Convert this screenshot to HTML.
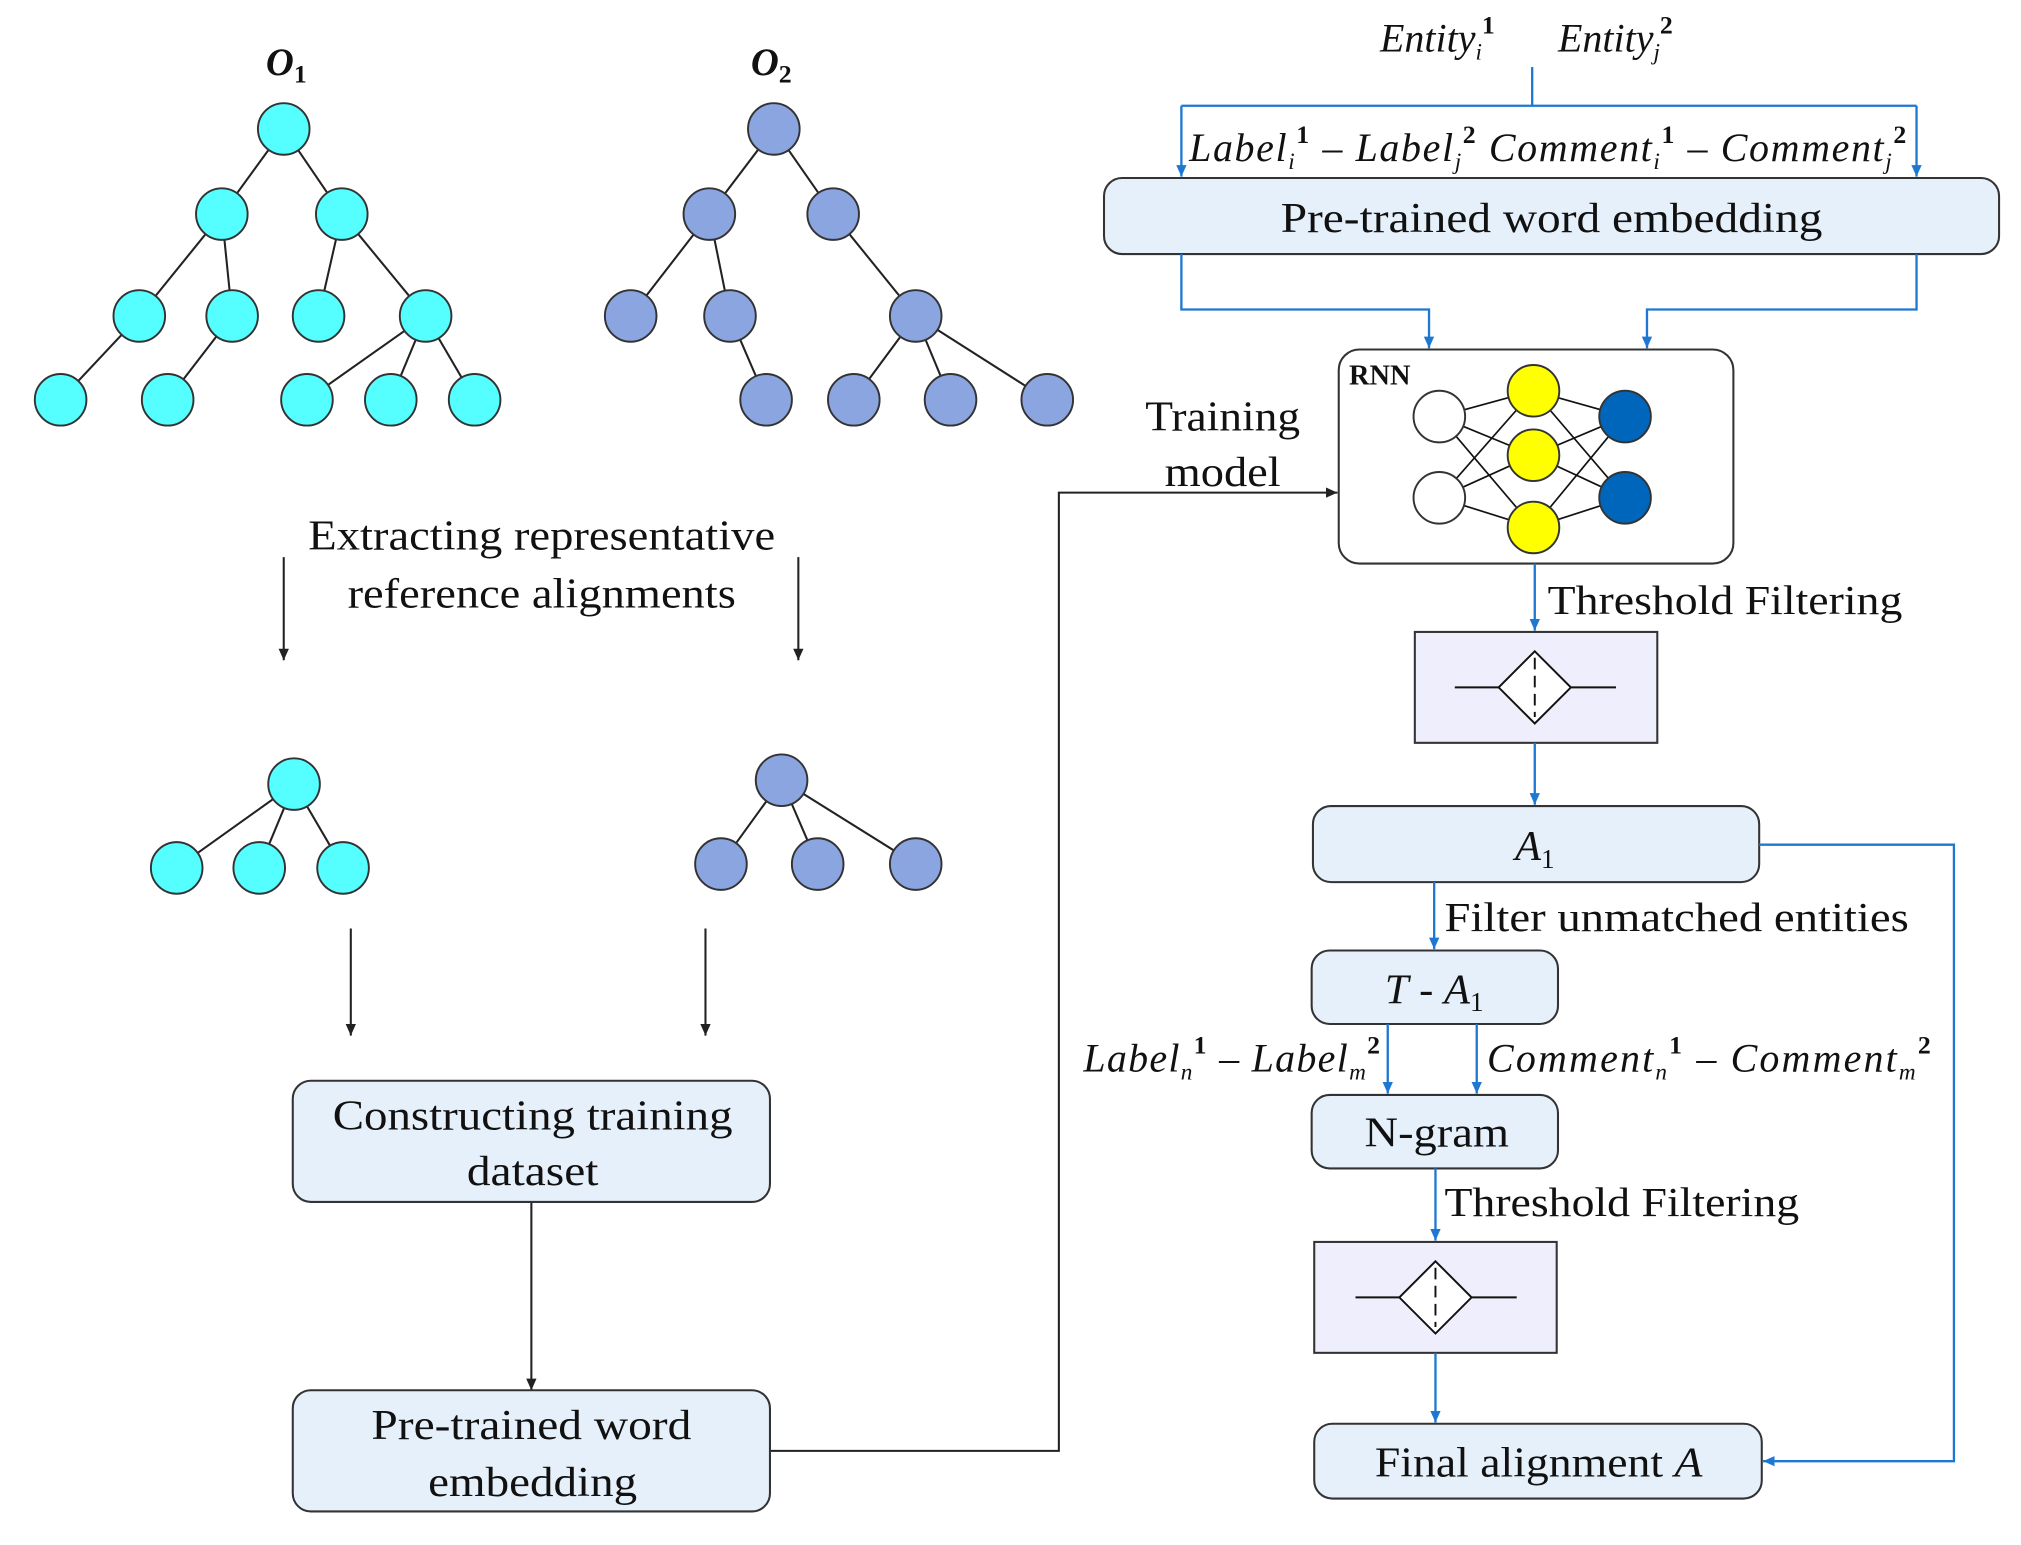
<!DOCTYPE html>
<html><head><meta charset="utf-8"><style>html,body{margin:0;padding:0;background:#fff}svg{display:block}</style></head>
<body>
<svg width="2021" height="1545" viewBox="0 0 1567 1198" preserveAspectRatio="none" xmlns="http://www.w3.org/2000/svg" font-family="'Liberation Serif', serif">
<defs>
<marker id="ak" markerWidth="10" markerHeight="10" refX="9" refY="5" orient="auto" markerUnits="userSpaceOnUse"><path d="M0,1 L9,5 L0,9 z" fill="#222"/></marker>
<marker id="ab" markerWidth="10" markerHeight="10" refX="9" refY="5" orient="auto" markerUnits="userSpaceOnUse"><path d="M0,1 L9,5 L0,9 z" fill="#1e78d2"/></marker>
</defs>
<g stroke="#222" stroke-width="1.6">
<line x1="220" y1="100" x2="172" y2="166"/><line x1="220" y1="100" x2="265" y2="166"/>
<line x1="172" y1="166" x2="108" y2="245"/><line x1="172" y1="166" x2="180" y2="245"/>
<line x1="265" y1="166" x2="247" y2="245"/><line x1="265" y1="166" x2="330" y2="245"/>
<line x1="108" y1="245" x2="47" y2="310"/><line x1="180" y1="245" x2="130" y2="310"/>
<line x1="330" y1="245" x2="238" y2="310"/><line x1="330" y1="245" x2="303" y2="310"/><line x1="330" y1="245" x2="368" y2="310"/>
<line x1="600" y1="100" x2="550" y2="166"/><line x1="600" y1="100" x2="646" y2="166"/>
<line x1="550" y1="166" x2="489" y2="245"/><line x1="550" y1="166" x2="566" y2="245"/>
<line x1="646" y1="166" x2="710" y2="245"/><line x1="566" y1="245" x2="594" y2="310"/>
<line x1="710" y1="245" x2="662" y2="310"/><line x1="710" y1="245" x2="737" y2="310"/><line x1="710" y1="245" x2="812" y2="310"/>
<line x1="228" y1="608" x2="137" y2="673"/><line x1="228" y1="608" x2="201" y2="673"/><line x1="228" y1="608" x2="266" y2="673"/>
<line x1="606" y1="605" x2="559" y2="670"/><line x1="606" y1="605" x2="634" y2="670"/><line x1="606" y1="605" x2="710" y2="670"/>
</g>
<g fill="#55ffff" stroke="#333" stroke-width="1.5">
<circle cx="220" cy="100" r="20"/><circle cx="172" cy="166" r="20"/><circle cx="265" cy="166" r="20"/>
<circle cx="108" cy="245" r="20"/><circle cx="180" cy="245" r="20"/><circle cx="247" cy="245" r="20"/><circle cx="330" cy="245" r="20"/>
<circle cx="47" cy="310" r="20"/><circle cx="130" cy="310" r="20"/><circle cx="238" cy="310" r="20"/><circle cx="303" cy="310" r="20"/><circle cx="368" cy="310" r="20"/>
<circle cx="228" cy="608" r="20"/><circle cx="137" cy="673" r="20"/><circle cx="201" cy="673" r="20"/><circle cx="266" cy="673" r="20"/>
</g>
<g fill="#8aa5e0" stroke="#333" stroke-width="1.5">
<circle cx="600" cy="100" r="20"/><circle cx="550" cy="166" r="20"/><circle cx="646" cy="166" r="20"/>
<circle cx="489" cy="245" r="20"/><circle cx="566" cy="245" r="20"/><circle cx="710" cy="245" r="20"/>
<circle cx="594" cy="310" r="20"/><circle cx="662" cy="310" r="20"/><circle cx="737" cy="310" r="20"/><circle cx="812" cy="310" r="20"/>
<circle cx="606" cy="605" r="20"/><circle cx="559" cy="670" r="20"/><circle cx="634" cy="670" r="20"/><circle cx="710" cy="670" r="20"/>
</g>
<g font-size="30" font-weight="bold" font-style="italic" text-anchor="middle" fill="#111">
<text x="222" y="58">O<tspan font-size="20" dy="6" font-style="normal">1</tspan></text>
<text x="598" y="58">O<tspan font-size="20" dy="6" font-style="normal">2</tspan></text>
</g>
<g font-size="33" fill="#111" text-anchor="middle" lengthAdjust="spacingAndGlyphs">
<text x="420" y="426" textLength="362" lengthAdjust="spacingAndGlyphs">Extracting representative</text>
<text x="420" y="471" textLength="301" lengthAdjust="spacingAndGlyphs">reference alignments</text>
<text x="948" y="334" textLength="120" lengthAdjust="spacingAndGlyphs">Training</text>
<text x="948" y="377" textLength="90" lengthAdjust="spacingAndGlyphs">model</text>
</g>
<g stroke="#222" stroke-width="1.6" fill="none">
<line x1="220" y1="432" x2="220" y2="512" marker-end="url(#ak)"/>
<line x1="619" y1="432" x2="619" y2="512" marker-end="url(#ak)"/>
<line x1="272" y1="720" x2="272" y2="803" marker-end="url(#ak)"/>
<line x1="547" y1="720" x2="547" y2="803" marker-end="url(#ak)"/>
<line x1="412" y1="932" x2="412" y2="1078" marker-end="url(#ak)"/>
<polyline points="597,1125 821,1125 821,382 1037,382" marker-end="url(#ak)"/>
</g>
<g fill="#e6f0fa" stroke="#333" stroke-width="1.6">
<rect x="227" y="838" width="370" height="94" rx="14"/>
<rect x="227" y="1078" width="370" height="94" rx="14"/>
<rect x="856" y="138" width="694" height="59" rx="14"/>
<rect x="1018" y="625" width="346" height="59" rx="14"/>
<rect x="1017" y="737" width="191" height="57" rx="14"/>
<rect x="1017" y="849" width="191" height="57" rx="14"/>
<rect x="1019" y="1104" width="347" height="58" rx="14"/>
</g>
<rect x="1038" y="271" width="306" height="166" rx="16" fill="#fff" stroke="#333" stroke-width="1.6"/>
<g fill="#eeeefc" stroke="#333" stroke-width="1.6">
<rect x="1097" y="490" width="188" height="86"/>
<rect x="1019" y="963" width="188" height="86"/>
</g>
<g stroke="#111" stroke-width="1.5" fill="none">
<line x1="1128" y1="533" x2="1162" y2="533"/><line x1="1218" y1="533" x2="1253" y2="533"/>
<polygon points="1190,505 1218,533 1190,561 1162,533" fill="#fff"/>
<line x1="1190" y1="510" x2="1190" y2="556" stroke-dasharray="9,5"/>
<line x1="1051" y1="1006" x2="1085" y2="1006"/><line x1="1141" y1="1006" x2="1176" y2="1006"/>
<polygon points="1113,978 1141,1006 1113,1034 1085,1006" fill="#fff"/>
<line x1="1113" y1="983" x2="1113" y2="1029" stroke-dasharray="9,5"/>
</g>
<g stroke="#111" stroke-width="1.3">
<line x1="1116" y1="323" x2="1189" y2="303"/><line x1="1116" y1="323" x2="1189" y2="353"/><line x1="1116" y1="323" x2="1189" y2="409"/>
<line x1="1116" y1="386" x2="1189" y2="303"/><line x1="1116" y1="386" x2="1189" y2="353"/><line x1="1116" y1="386" x2="1189" y2="409"/>
<line x1="1189" y1="303" x2="1260" y2="323"/><line x1="1189" y1="303" x2="1260" y2="386"/>
<line x1="1189" y1="353" x2="1260" y2="323"/><line x1="1189" y1="353" x2="1260" y2="386"/>
<line x1="1189" y1="409" x2="1260" y2="323"/><line x1="1189" y1="409" x2="1260" y2="386"/>
</g>
<g stroke="#333" stroke-width="1.5">
<circle cx="1116" cy="323" r="20" fill="#fff"/><circle cx="1116" cy="386" r="20" fill="#fff"/>
<circle cx="1189" cy="303" r="20" fill="#ffff00"/><circle cx="1189" cy="353" r="20" fill="#ffff00"/><circle cx="1189" cy="409" r="20" fill="#ffff00"/>
<circle cx="1260" cy="323" r="20" fill="#0066bb"/><circle cx="1260" cy="386" r="20" fill="#0066bb"/>
</g>
<text x="1046" y="298" font-size="22" font-weight="bold" fill="#111">RNN</text>
<g stroke="#1e78d2" stroke-width="1.8" fill="none">
<line x1="1188" y1="52" x2="1188" y2="82"/>
<polyline points="916,82 1486,82"/>
<line x1="916" y1="82" x2="916" y2="137" marker-end="url(#ab)"/>
<line x1="1486" y1="82" x2="1486" y2="137" marker-end="url(#ab)"/>
<polyline points="916,197 916,240 1108,240 1108,270" marker-end="url(#ab)"/>
<polyline points="1486,197 1486,240 1277,240 1277,270" marker-end="url(#ab)"/>
<line x1="1190" y1="437" x2="1190" y2="489" marker-end="url(#ab)"/>
<line x1="1190" y1="576" x2="1190" y2="624" marker-end="url(#ab)"/>
<polyline points="1364,655 1515,655 1515,1133 1367,1133" marker-end="url(#ab)"/>
<line x1="1112" y1="684" x2="1112" y2="736" marker-end="url(#ab)"/>
<line x1="1076" y1="794" x2="1076" y2="848" marker-end="url(#ab)"/>
<line x1="1145" y1="794" x2="1145" y2="848" marker-end="url(#ab)"/>
<line x1="1113" y1="906" x2="1113" y2="962" marker-end="url(#ab)"/>
<line x1="1113" y1="1049" x2="1113" y2="1103" marker-end="url(#ab)"/>
</g>
<g fill="#111" font-size="33" text-anchor="middle">
<text x="413" y="876" textLength="310" lengthAdjust="spacingAndGlyphs">Constructing training</text>
<text x="413" y="919" textLength="102" lengthAdjust="spacingAndGlyphs">dataset</text>
<text x="412" y="1116" textLength="248" lengthAdjust="spacingAndGlyphs">Pre-trained word</text>
<text x="413" y="1160" textLength="162" lengthAdjust="spacingAndGlyphs">embedding</text>
<text x="1203" y="180" textLength="420" lengthAdjust="spacingAndGlyphs">Pre-trained word embedding</text>
<text x="1190" y="667" font-style="italic">A<tspan font-size="21" dy="6" font-style="normal">1</tspan></text>
<text x="1112" y="778"><tspan font-style="italic">T</tspan> - <tspan font-style="italic">A</tspan><tspan font-size="21" dy="6">1</tspan></text>
<text x="1114" y="889" textLength="112" lengthAdjust="spacingAndGlyphs">N-gram</text>
<text x="1193" y="1145" textLength="254" lengthAdjust="spacingAndGlyphs">Final alignment <tspan font-style="italic">A</tspan></text>
</g>
<g fill="#111" font-size="32">
<text x="1200" y="476" textLength="275" lengthAdjust="spacingAndGlyphs">Threshold Filtering</text>
<text x="1120" y="722" textLength="360" lengthAdjust="spacingAndGlyphs">Filter unmatched entities</text>
<text x="1120" y="943" textLength="275" lengthAdjust="spacingAndGlyphs">Threshold Filtering</text>
</g>
<g fill="#111" font-size="31" font-style="italic">
<text x="1070" y="40">Entity<tspan font-size="18" dy="6">i</tspan><tspan font-size="20" dy="-20" font-style="normal" font-weight="bold">1</tspan></text>
<text x="1208" y="40">Entity<tspan font-size="18" dy="6">j</tspan><tspan font-size="20" dy="-20" font-style="normal" font-weight="bold">2</tspan></text>
<text x="922" y="125" textLength="556" lengthAdjust="spacing">Label<tspan font-size="18" dy="6">i</tspan><tspan font-size="20" dy="-20" font-style="normal" font-weight="bold">1</tspan><tspan dy="14" font-style="normal"> – </tspan>Label<tspan font-size="18" dy="6">j</tspan><tspan font-size="20" dy="-20" font-style="normal" font-weight="bold">2</tspan><tspan dy="14">   Comment</tspan><tspan font-size="18" dy="6">i</tspan><tspan font-size="20" dy="-20" font-style="normal" font-weight="bold">1</tspan><tspan dy="14" font-style="normal"> – </tspan>Comment<tspan font-size="18" dy="6">j</tspan><tspan font-size="20" dy="-20" font-style="normal" font-weight="bold">2</tspan></text>
<text x="840" y="831" textLength="230" lengthAdjust="spacing">Label<tspan font-size="18" dy="6">n</tspan><tspan font-size="20" dy="-20" font-style="normal" font-weight="bold">1</tspan><tspan dy="14" font-style="normal"> – </tspan>Label<tspan font-size="18" dy="6">m</tspan><tspan font-size="20" dy="-20" font-style="normal" font-weight="bold">2</tspan></text>
<text x="1153" y="831" textLength="344" lengthAdjust="spacing">Comment<tspan font-size="18" dy="6">n</tspan><tspan font-size="20" dy="-20" font-style="normal" font-weight="bold">1</tspan><tspan dy="14" font-style="normal"> – </tspan>Comment<tspan font-size="18" dy="6">m</tspan><tspan font-size="20" dy="-20" font-style="normal" font-weight="bold">2</tspan></text>
</g>
</svg>
</body></html>
